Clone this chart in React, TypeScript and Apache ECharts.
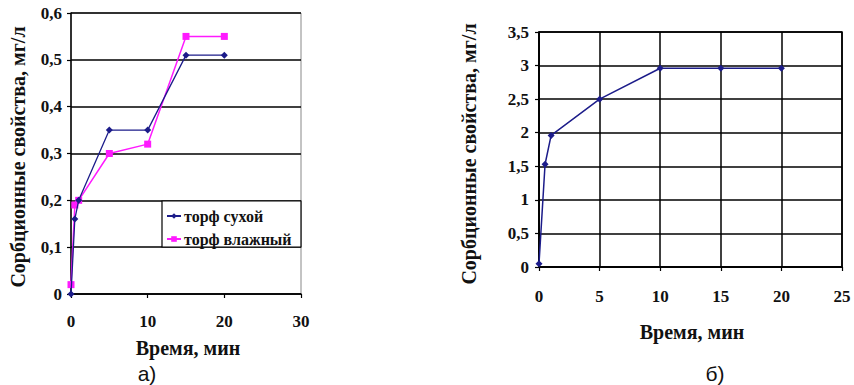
import React, { useEffect, useRef } from "react";
import * as echarts from "echarts";

const timeA = [0, 0.5, 1, 5, 10, 15, 20];
const dryPeat = [0, 0.16, 0.2, 0.35, 0.35, 0.51, 0.51];
const wetPeat = [0.02, 0.19, 0.2, 0.3, 0.32, 0.55, 0.55];
const timeB = [0, 0.5, 1, 5, 10, 15, 20];
const sorptionB = [0.05, 1.53, 1.96, 2.5, 2.96, 2.96, 2.96];

const seriesNames = ["торф сухой", "торф влажный"];
const yTitle = "Сорбционные свойства, мг/л";
const xTitle = "Время, мин";

const SERIF = "Liberation Serif";
const SANS = "Liberation Sans";

const comma = (v: number) => String(v).replace(".", ",");

export default function App() {
  const ref = useRef<HTMLDivElement>(null);
  useEffect(() => {
    if (!ref.current) return;
    const chart = echarts.init(ref.current, null, { renderer: "svg" });
    const labelStyle = {
      fontFamily: SERIF,
      fontWeight: "bold" as const,
      fontSize: 17,
      color: "#111",
    };
    const txt = (text: string, x: number, y: number, size: number, family: string, weight: string, rot = 0) => ({
      type: "text", x, y, rotation: rot,
      style: {
        text, fontFamily: family, fontWeight: weight, fontSize: size, fill: "#111",
        textAlign: "center", textVerticalAlign: "middle",
      },
    });
    const axisLine = { show: true, lineStyle: { color: "#000", width: 1.5 } };
    const tick = { show: true, length: 4, inside: false, lineStyle: { color: "#000", width: 1.2 } };
    chart.setOption({
      animation: false,
      backgroundColor: "#fff",
      grid: [
        { left: 71, top: 13, width: 230, height: 281, show: true, borderColor: "#888", borderWidth: 1 },
        { left: 539, top: 32, width: 303, height: 235, show: true, borderColor: "#000", borderWidth: 1.5 },
      ],
      xAxis: [
        {
          gridIndex: 0, type: "value", min: 0, max: 30, interval: 10,
          axisLine, axisTick: tick, splitLine: { show: false },
          axisLabel: { ...labelStyle, margin: 19, formatter: comma },
        },
        {
          gridIndex: 1, type: "value", min: 0, max: 25, interval: 5,
          axisLine, axisTick: tick,
          splitLine: { show: true, lineStyle: { color: "#000", width: 1.5 } },
          axisLabel: { ...labelStyle, margin: 21, formatter: comma },
        },
      ],
      yAxis: [
        {
          gridIndex: 0, type: "value", min: 0, max: 0.6, interval: 0.1,
          axisLine, axisTick: tick,
          splitLine: { show: true, lineStyle: { color: "#000", width: 1.5 } },
          axisLabel: { ...labelStyle, margin: 9, formatter: (v: number) => comma(Math.round(v * 10) / 10) },
        },
        {
          gridIndex: 1, type: "value", min: 0, max: 3.5, interval: 0.5,
          axisLine, axisTick: tick,
          splitLine: { show: true, lineStyle: { color: "#000", width: 1.5 } },
          axisLabel: { ...labelStyle, margin: 10, formatter: comma },
        },
      ],
      legend: {
        data: seriesNames,
        orient: "vertical",
        left: 166,
        top: 208,
        itemWidth: 14,
        itemHeight: 7,
        itemGap: 7,
        padding: 0,
        z: 10,
        textStyle: { fontFamily: SERIF, fontWeight: "bold", fontSize: 16, color: "#111", padding: [0, 0, 0, -2] },
      },
      graphic: [
        {
          type: "rect", z: 5,
          shape: { x: 162, y: 201, width: 139, height: 46 },
          style: { fill: "#fff", stroke: "#000", lineWidth: 1.2 },
        },
        txt(yTitle, 18, 157, 20, SERIF, "bold", Math.PI / 2),
        txt(yTitle, 469, 154, 20, SERIF, "bold", Math.PI / 2),
        txt(xTitle, 188, 348, 20, SERIF, "bold"),
        txt(xTitle, 692, 332, 20, SERIF, "bold"),
        txt("а)", 147, 373, 21, SANS, "normal"),
        txt("б)", 715, 373, 21, SANS, "normal"),
      ],
      series: [
        {
          name: seriesNames[0], type: "line", xAxisIndex: 0, yAxisIndex: 0,
          data: timeA.map((t, i) => [t, dryPeat[i]]),
          symbol: "diamond", symbolSize: 7,
          lineStyle: { color: "#1c1c8a", width: 1.3 },
          itemStyle: { color: "#1c1c8a" },
          z: 3,
        },
        {
          name: seriesNames[1], type: "line", xAxisIndex: 0, yAxisIndex: 0,
          data: timeA.map((t, i) => [t, wetPeat[i]]),
          symbol: "rect", symbolSize: 7,
          lineStyle: { color: "#ff1aff", width: 1.5 },
          itemStyle: { color: "#ff1aff" },
          z: 2,
        },
        {
          name: "б", type: "line", xAxisIndex: 1, yAxisIndex: 1,
          data: timeB.map((t, i) => [t, sorptionB[i]]),
          symbol: "diamond", symbolSize: 7,
          lineStyle: { color: "#1c1c8a", width: 1.5 },
          itemStyle: { color: "#1c1c8a" },
        },
      ],
    });
    return () => chart.dispose();
  }, []);
  return (
    <div
      ref={ref}
      style={{ position: "fixed", left: 0, top: 0, width: 854, height: 385, background: "#fff" }}
    />
  );
}
